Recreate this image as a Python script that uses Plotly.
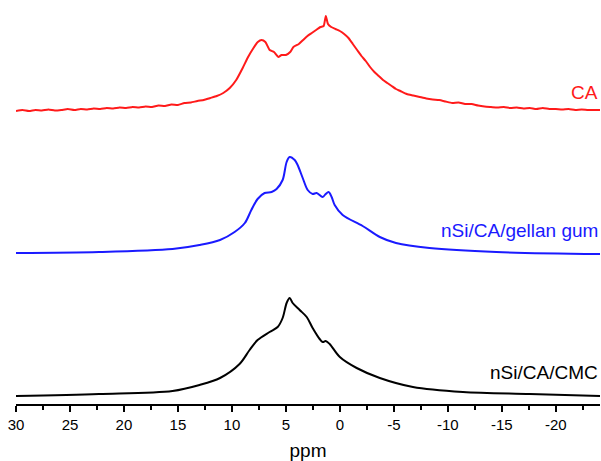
import plotly.graph_objects as go

# ---- data (chemical shift in ppm, intensity in arbitrary units) ----
ca_ppm = [30.0, 29.4, 28.8, 28.2, 27.6, 27.0, 26.4, 25.8, 25.2, 24.6, 24.0, 23.4, 22.8, 22.2,
          21.6, 21.0, 20.4, 19.8, 19.2, 18.6, 18.0, 17.4, 16.8, 16.2, 15.6, 15.0, 14.4, 13.8,
          13.2, 12.6, 12.0, 11.4, 10.8, 10.2, 9.6, 9.0, 8.5, 8.0, 7.6, 7.25, 6.9, 6.5, 6.1,
          5.7, 5.4, 5.0, 4.6, 4.3, 3.8, 3.4, 3.0, 2.6, 2.2, 1.8, 1.5, 1.3, 1.1, 0.8, 0.4,
          0.0, -0.4, -0.8, -1.2, -1.6, -2.0, -2.4, -2.8, -3.2, -3.6, -4.0, -4.4, -4.8, -5.2,
          -5.6, -6.2, -6.8, -7.4, -8.0, -8.6, -9.2, -9.8, -10.4, -11.0, -11.6, -12.2, -12.8,
          -13.4, -14.0, -14.6, -15.2, -15.8, -16.4, -17.0, -17.6, -18.2, -18.8, -19.4, -20.0,
          -20.6, -21.2, -21.8, -22.4, -23.0, -23.6, -24.1]
ca_int = [1, 2, 1, 2, 1.5, 2.5, 1.5, 2, 3, 2, 3, 2.5, 3.5, 3,
          4, 3.5, 4.5, 4, 5, 4.5, 5.5, 5, 6.5, 6, 7.5, 7, 9, 9.5,
          11, 12, 14, 16, 19, 24, 32, 44, 55, 64, 70, 72, 70, 62, 60,
          55, 57, 57, 60, 65, 68, 72, 76, 79, 82, 85, 86, 96, 88, 85, 83,
          81, 78, 74, 68, 62, 56, 51, 45, 40, 36, 32, 29, 26, 23,
          21, 18, 16.5, 15, 13.5, 12.5, 12, 10.5, 9, 9.5, 8, 8, 6.5,
          5.5, 5, 4.5, 5, 4, 4.5, 3.5, 4, 3, 4, 3, 3,
          2.5, 3, 2, 2.5, 2, 2, 2]

gg_ppm = [30.0, 22.3, 15.5, 13.0, 11.1, 9.75, 8.8, 8.2, 7.62, 6.97, 6.32,
          5.86, 5.3, 4.93, 4.65, 4.18, 3.91, 3.44, 2.98, 2.52, 2.15, 1.59, 1.31, 1.04, 0.76,
          0.48, -0.26, -2.11, -3.7, -5.2, -8.3, -14.5, -24.1]
gg_int = [3, 4, 7, 11, 16, 24, 33, 46, 57, 63, 64,
          67, 76, 94, 99, 96, 91, 78, 66, 62, 63, 59, 62, 64, 59,
          51, 41, 30, 19, 13, 8, 4, 2]

cmc_ppm = [30.0, 22.3, 15.5, 13.0, 11.1, 9.29, 8.36, 7.62, 6.51, 5.76, 5.3,
           4.93, 4.65, 4.37, 3.72, 3.07, 2.52, 1.87, 1.59, 1.31, 0.94, 0.0, -1.56,
           -3.7, -6.77, -11.4, -17.6, -24.1]
cmc_int = [1, 3, 6, 12, 19, 33, 47, 57, 65, 70, 79,
           94, 99, 94, 87, 80, 69, 58, 55, 56, 53, 40, 29,
           19, 10, 5, 3, 1]

labels = ["CA", "nSi/CA/gellan gum", "nSi/CA/CMC"]
colors = ["#ff1a1a", "#1a1aff", "#000000"]
offsets = [292, 148, 7]
smooth = [0.5, 0.9, 0.9]
x_ticks = [30, 25, 20, 15, 10, 5, 0, -5, -10, -15, -20]

series = [(ca_ppm, ca_int), (gg_ppm, gg_int), (cmc_ppm, cmc_int)]
label_y = [312, 174, 32]

fig = go.Figure()
for (xs, ys), name, col, off, sm in zip(series, labels, colors, offsets, smooth):
    fig.add_trace(go.Scatter(x=xs, y=[v + off for v in ys], mode="lines", name=name,
                             line=dict(color=col, width=2, shape="spline", smoothing=sm),
                             showlegend=False, hoverinfo="skip"))

for name, col, ly in zip(labels, colors, label_y):
    fig.add_annotation(x=1, xref="paper", xanchor="right", y=ly, yref="y", yanchor="middle",
                       text=name, showarrow=False, font=dict(color=col, size=19))

fig.update_layout(
    width=601, height=461,
    margin=dict(l=16, r=1, t=0, b=57),
    paper_bgcolor="white", plot_bgcolor="white",
    font=dict(family="Arial, Liberation Sans, sans-serif", color="black"),
    xaxis=dict(range=[30, -24.1], showgrid=False, zeroline=False, showline=True,
               linecolor="black", linewidth=1.5, ticks="outside", ticklen=6, tickwidth=1.5,
               tickcolor="black", tickvals=x_ticks, ticktext=[str(t) for t in x_ticks],
               tickfont=dict(size=15),
               minor=dict(ticks="outside", ticklen=4, tickwidth=1.5, tickcolor="black", dtick=2.5, tick0=0),
               title=dict(text="ppm", font=dict(size=19), standoff=14)),
    yaxis=dict(range=[0, 404], visible=False, fixedrange=True),
)

fig.write_html("out.html")
